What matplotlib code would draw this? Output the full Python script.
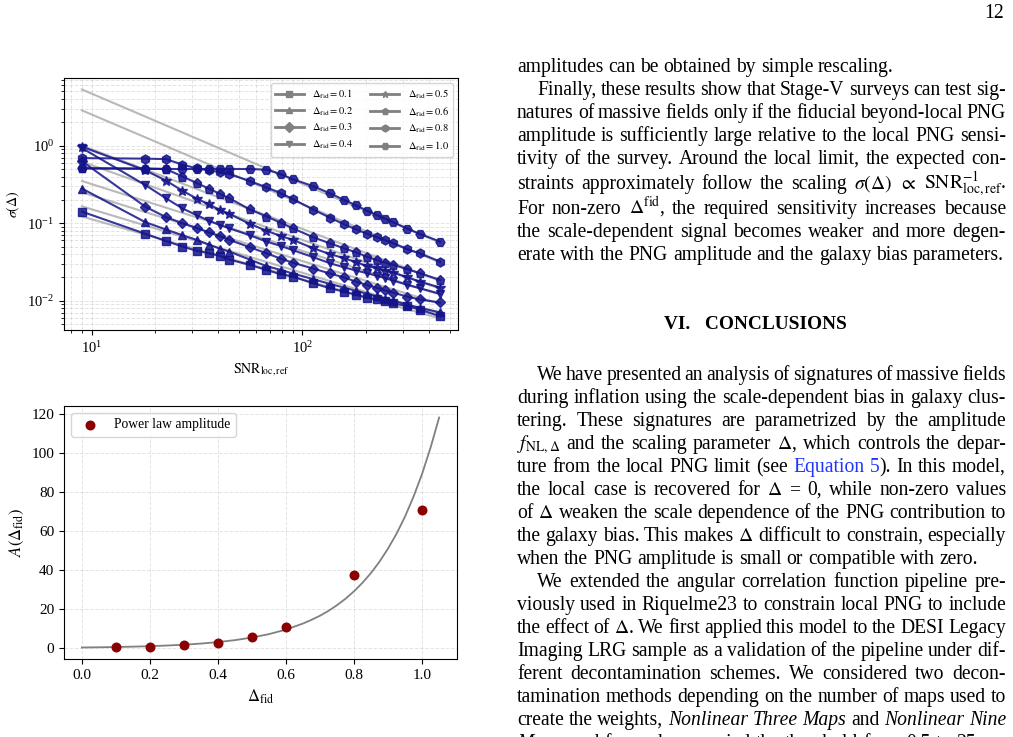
"""Page snippet: sigma(Delta) vs SNR and power-law amplitude, plus text column."""

import matplotlib
matplotlib.use("Agg")
import matplotlib.pyplot as plt
from matplotlib.lines import Line2D

plt.rcParams["font.family"] = "serif"
plt.rcParams["font.serif"] = ["Liberation Serif", "DejaVu Serif"]
plt.rcParams["mathtext.fontset"] = "stix"

W, H = 1013, 737

# --- top panel data -------------------------------------------------------
snr = [9, 18, 22.5, 27, 31.5, 36, 40.5, 45, 56.25, 67.5, 78.75, 90,
       112.5, 135, 157.5, 180, 202.5, 225, 247.5, 270, 315, 360, 450]
delta_labels = ["0.1", "0.2", "0.3", "0.4", "0.5", "0.6", "0.8", "1.0"]

sig_01 = [0.141, 0.073, 0.059, 0.050, 0.044, 0.041, 0.038, 0.034, 0.029, 0.025, 0.022, 0.0205,
          0.0168, 0.0145, 0.0131, 0.0119, 0.011, 0.0104, 0.0098, 0.0093, 0.0085, 0.0077, 0.0063]
sig_02 = [0.28, 0.103, 0.083, 0.070, 0.061, 0.053, 0.047, 0.043, 0.034, 0.028, 0.025, 0.0225,
          0.019, 0.0165, 0.0148, 0.0134, 0.0123, 0.0114, 0.0106, 0.010, 0.0089, 0.0081, 0.0071]
sig_03 = [0.63, 0.163, 0.12, 0.10, 0.087, 0.076, 0.068, 0.061, 0.049, 0.041, 0.035, 0.031,
          0.026, 0.0225, 0.020, 0.0176, 0.016, 0.0147, 0.0136, 0.0127, 0.0113, 0.0104, 0.0095]
sig_04 = [0.93, 0.31, 0.21, 0.155, 0.127, 0.108, 0.095, 0.086, 0.07, 0.058, 0.051, 0.045,
          0.0365, 0.0305, 0.027, 0.0245, 0.0227, 0.021, 0.0195, 0.0182, 0.016, 0.0145, 0.0123]
sig_05 = [0.97, 0.48, 0.355, 0.262, 0.208, 0.175, 0.149, 0.132, 0.098, 0.080, 0.0686, 0.061,
          0.0476, 0.040, 0.0354, 0.0314, 0.028, 0.0263, 0.0245, 0.023, 0.020, 0.0177, 0.0148]
sig_06 = [0.51, 0.505, 0.50, 0.40, 0.33, 0.279, 0.24, 0.21, 0.151, 0.122, 0.102, 0.086,
          0.066, 0.055, 0.0476, 0.042, 0.037, 0.0336, 0.031, 0.029, 0.0255, 0.0227, 0.0186]
sig_08 = [0.69, 0.68, 0.67, 0.57, 0.51, 0.48, 0.455, 0.43, 0.35, 0.29, 0.245, 0.205,
          0.15, 0.118, 0.097, 0.083, 0.073, 0.066, 0.06, 0.055, 0.046, 0.041, 0.032]
sig_10 = [0.51, 0.505, 0.50, 0.50, 0.50, 0.50, 0.50, 0.50, 0.50, 0.49, 0.43, 0.37,
          0.30, 0.243, 0.20, 0.17, 0.145, 0.128, 0.114, 0.103, 0.085, 0.073, 0.058]
sigmas = [sig_01, sig_02, sig_03, sig_04, sig_05, sig_06, sig_08, sig_10]

# power-law reference lines (straight in log-log): value at first and last SNR
ref_snr = [9, 450]
ref_start = [0.122, 0.165, 0.25, 0.35, 0.62, 1.0, 2.85, 5.3]
ref_end = [0.0059, 0.0067, 0.0091, 0.012, 0.0143, 0.018, 0.031, 0.056]

# --- bottom panel data ----------------------------------------------------
delta_fid = [0.1, 0.2, 0.3, 0.4, 0.5, 0.6, 0.8, 1.0]
amplitude = [0.5, 0.8, 1.4, 2.4, 5.5, 11.0, 37.5, 70.5]
fit_x = [0.0, 0.05, 0.1, 0.15, 0.2, 0.25, 0.3, 0.35, 0.4, 0.45, 0.5, 0.55,
         0.6, 0.65, 0.675, 0.7, 0.725, 0.75, 0.775, 0.8, 0.825, 0.85, 0.875,
         0.9, 0.925, 0.95, 0.975, 1.0, 1.025, 1.05]
fit_y = [0.33, 0.44, 0.58, 0.76, 1.01, 1.34, 1.77, 2.34, 3.10, 4.10, 5.43, 7.18,
         9.50, 12.6, 14.5, 16.6, 19.1, 22.0, 25.3, 29.1, 33.5, 38.5, 44.3,
         51.0, 58.6, 67.4, 77.6, 89.2, 102.7, 118.0]

# --- right column text ----------------------------------------------------
IT = {"style": "italic"}
LINK = {"color": "#1f35ff"}
text_lines = [
    (72, False, False, ["amplitudes can be obtained by simple rescaling."]),
    (95, True, True, ["Finally, these results show that Stage-V surveys can test sig-"]),
    (118, False, True, ["natures of massive fields only if the fiducial beyond-local PNG"]),
    (141, False, True, ["amplitude is sufficiently large relative to the local PNG sensi-"]),
    (164, False, True, ["tivity of the survey. Around the local limit, the expected con-"]),
    (189, False, True, ["straints approximately follow the scaling", r"$\sigma(\Delta)$",
                        r"$\propto$", r"$\mathrm{SNR}_{\mathrm{loc,ref}}^{-1}$."]),
    (214, False, True, ["For non-zero", r"$\Delta^{\mathrm{fid}}$,",
                        "the required sensitivity increases because"]),
    (237, False, True, ["the scale-dependent signal becomes weaker and more degen-"]),
    (260, False, False, ["erate with the PNG amplitude and the galaxy bias parameters."]),
    (380, True, True, ["We have presented an analysis of signatures of massive fields"]),
    (403, False, True, ["during inflation using the scale-dependent bias in galaxy clus-"]),
    (426, False, True, ["tering.  These signatures are parametrized by the amplitude"]),
    (449, False, True, [r"$f_{\mathrm{NL},\Delta}$", "and the scaling parameter", r"$\Delta$,",
                        "which controls the depar-"]),
    (472, False, True, ["ture from the local PNG limit (see", ("Equation 5", LINK, False),
                        (").", {}, True), "In this model,"]),
    (495, False, True, ["the local case is recovered for", r"$\Delta$", "=", "0, while non-zero values"]),
    (518, False, True, ["of", r"$\Delta$", "weaken the scale dependence of the PNG contribution to"]),
    (541, False, True, ["the galaxy bias. This makes", r"$\Delta$", "difficult to constrain, especially"]),
    (564, False, False, ["when the PNG amplitude is small or compatible with zero."]),
    (587, True, True, ["We extended the angular correlation function pipeline pre-"]),
    (610, False, True, ["viously used in Riquelme23 to constrain local PNG to include"]),
    (633, False, True, ["the effect of", r"$\Delta$.", "We first applied this model to the DESI Legacy"]),
    (656, False, True, ["Imaging LRG sample as a validation of the pipeline under dif-"]),
    (679, False, True, ["ferent decontamination schemes. We considered two decon-"]),
    (702, False, True, ["tamination methods depending on the number of maps used to"]),
    (725, False, True, ["create the weights,", ("Nonlinear Three Maps", IT, False), "and",
                        ("Nonlinear Nine", IT, False)]),
    (748, False, True, [("Maps", IT, False), (",", {}, True),
                        "and for each we varied the threshold from 0.5 to 25 per"]),
]

TEXT_FS = 14.15
COL_LEFT, COL_RIGHT, INDENT = 517, 1006, 20


def tokenize(segments):
    """Split line segments into words; each word is a list of (text, style) pieces."""
    words = []
    for seg in segments:
        if isinstance(seg, str):
            seg = (seg, {}, False)
        text, style, glue = seg
        for i, part in enumerate(text.split()):
            if i == 0 and glue and words:
                words[-1].append((part, style))
            else:
                words.append([(part, style)])
    return words


def draw_line(fig, renderer, segments, y_base, indent, justify):
    words = tokenize(segments)
    groups, widths = [], []
    for word in words:
        pieces, total = [], 0.0
        for part, style in word:
            t = fig.text(0, 1 - y_base / H, part, fontsize=TEXT_FS, va="baseline", ha="left", **style)
            w = t.get_window_extent(renderer).width
            pieces.append((t, w))
            total += w
        groups.append(pieces)
        widths.append(total)
    x = COL_LEFT + (INDENT if indent else 0)
    if justify and len(groups) > 1:
        gap = (COL_RIGHT - x - sum(widths)) / (len(groups) - 1)
    else:
        gap = TEXT_FS * 100 / 72 * 0.25
    for pieces in groups:
        for t, w in pieces:
            t.set_x(x / W)
            x += w
        x += gap


fig = plt.figure(figsize=(W / 100, H / 100), dpi=100)
renderer = fig.canvas.get_renderer()

# top panel
ax1 = fig.add_axes([64 / W, 1 - 330 / H, 394 / W, 252 / H])
markers = ["s", "^", "D", "v", "*", "p", "h", "H"]
msizes = [6, 6, 5.5, 6, 7.5, 6.5, 6.5, 6.5]
for i in range(len(sigmas)):
    ax1.plot(ref_snr, [ref_start[i], ref_end[i]], color="gray", alpha=0.55, lw=1.5, zorder=1)
for i, sig in enumerate(sigmas):
    ax1.plot(snr, sig, color="#14148a", alpha=0.85, marker=markers[i], ms=msizes[i],
             lw=1.5, zorder=2)
ax1.set_xscale("log")
ax1.set_yscale("log")
ax1.grid(True, which="both", ls="--", lw=0.7, alpha=0.35)
ax1.set_xlabel(r"$\mathrm{SNR}_{\mathrm{loc,ref}}$", fontsize=10)
ax1.set_ylabel(r"$\sigma(\Delta)$", fontsize=10)
ax1.tick_params(labelsize=10.5)

handles = [Line2D([], [], color="gray", lw=2, marker=m, ms=5) for m in markers]
labels = [r"$\Delta_{\mathrm{fid}}=%s$" % d for d in delta_labels]
ax1.legend(handles, labels, loc="upper right", ncol=2, fontsize=7.5, handlelength=2.8,
           labelspacing=0.4, columnspacing=1.6, framealpha=0.8)

# bottom panel
ax2 = fig.add_axes([64 / W, 1 - 659 / H, 393 / W, 253 / H])
ax2.plot(fit_x, fit_y, color="gray", lw=1.3, zorder=2)
ax2.scatter(delta_fid, amplitude, color="darkred", s=38, zorder=3, label="Power law amplitude")
ax2.grid(True, ls="--", lw=0.7, alpha=0.35)
ax2.set_xlabel(r"$\Delta_{\mathrm{fid}}$", fontsize=12)
ax2.set_ylabel(r"$A(\Delta_{\mathrm{fid}})$", fontsize=12)
ax2.tick_params(labelsize=11)
ax2.legend(loc="upper left", fontsize=9.8)

# page text
fig.text(1004 / W, 1 - 18 / H, "12", fontsize=TEXT_FS, ha="right", va="baseline")
fig.text(755 / W, 1 - 329 / H, "VI.   CONCLUSIONS", fontsize=TEXT_FS - 0.3, fontweight="bold",
         ha="center", va="baseline")
for y_base, indent, justify, segments in text_lines:
    draw_line(fig, renderer, segments, y_base, indent, justify)

fig.savefig("out.png", dpi=100)
